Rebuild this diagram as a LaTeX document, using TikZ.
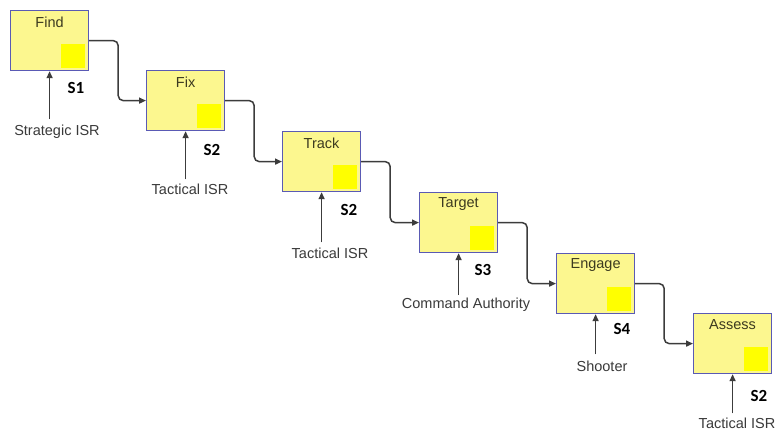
\documentclass[tikz,border=0pt]{standalone}
\usepackage{fontspec}
\setmainfont{Liberation Sans}
\newfontfamily\sfont{Carlito}
\usetikzlibrary{arrows.meta,positioning,calc}
\definecolor{boxfill}{HTML}{FCF78F}
\definecolor{boxline}{HTML}{5A5AB4}
\definecolor{inner}{HTML}{FFFF00}
\definecolor{conncol}{HTML}{3C3C3C}
\definecolor{labcol}{HTML}{3A3A3A}
\definecolor{titcol}{HTML}{3C3A20}
\tikzset{
  stepbox/.style={draw=boxline, fill=boxfill, line width=1.2pt, minimum width=78pt, minimum height=60pt, anchor=north west, inner sep=0pt},
  innersq/.style={fill=inner, minimum width=24pt, minimum height=24pt, inner sep=0pt, anchor=south east},
  title/.style={font=\fontsize{14.5}{15}\selectfont, text=titcol, anchor=center, inner sep=0pt},
  lab/.style={font=\fontsize{14.5}{15}\selectfont, text=labcol, inner sep=1pt},
  slab/.style={font=\sfont\bfseries\fontsize{17}{18}\selectfont, text=black, inner sep=0pt},
  conn/.style={draw=conncol, line width=1.5pt, rounded corners=5pt, -{Triangle[length=7pt,width=6pt]}},
  inarr/.style={draw=conncol, line width=1.5pt, -{Triangle[length=7pt,width=6pt]}}
}
\begin{document}
\begin{tikzpicture}[x=1pt,y=-1pt]
\useasboundingbox[fill=white] (0,0) rectangle (783,434);
% boxes
\foreach \n/\x/\y/\t in {b1/10/10/Find, b2/146/70/Fix, b3/282/131/Track, b4/419/192/Target, b5/556/253/Engage, b6/693/313/Assess}{
  \node[stepbox] (\n) at (\x,\y) {};
  \node[innersq] (\n q) at ([xshift=-4pt,yshift=3pt]\n.south east) {};
  \node[title] (\n t) at ([yshift=-12pt]\n.north) {\t};
}
% S labels
\node[slab] (s1) at (76,88) {S1};
\node[slab] (s2) at (212,150) {S2};
\node[slab] (s3) at (349,210) {S2};
\node[slab] (s4) at (483,270) {S3};
\node[slab] (s5) at (622,329) {S4};
\node[slab] (s6) at (759,396) {S2};
% input labels
\node[lab] (l1) at (57,132) {Strategic ISR};
\node[lab] (l2) at (190,189) {Tactical ISR};
\node[lab] (l3) at (330,253) {Tactical ISR};
\node[lab] (l4) at (466,305) {Command Authority};
\node[lab] (l5) at (602,366) {Shooter};
\node[lab] (l6) at (737,423) {Tactical ISR};
% input arrows
\draw[inarr] ([yshift=5pt]l1.north -| b1.south) -- (b1.south);
\draw[inarr] ([yshift=3pt]l2.north -| b2.south) -- (b2.south);
\draw[inarr] ([yshift=4pt]l3.north -| b3.south) -- (b3.south);
\draw[inarr] ([yshift=2pt]l4.north -| b4.south) -- (b4.south);
\draw[inarr] ([yshift=5pt]l5.north -| b5.south) -- (b5.south);
\draw[inarr] ([yshift=3pt]l6.north -| b6.south) -- (b6.south);
% connectors
\draw[conn] (b1.east) -- ++(29,0) |- (b2.west);
\draw[conn] (b2.east) -- ++(29,0) |- (b3.west);
\draw[conn] (b3.east) -- ++(29,0) |- (b4.west);
\draw[conn] (b4.east) -- ++(29,0) |- (b5.west);
\draw[conn] (b5.east) -- ++(29,0) |- (b6.west);
\end{tikzpicture}
\end{document}
